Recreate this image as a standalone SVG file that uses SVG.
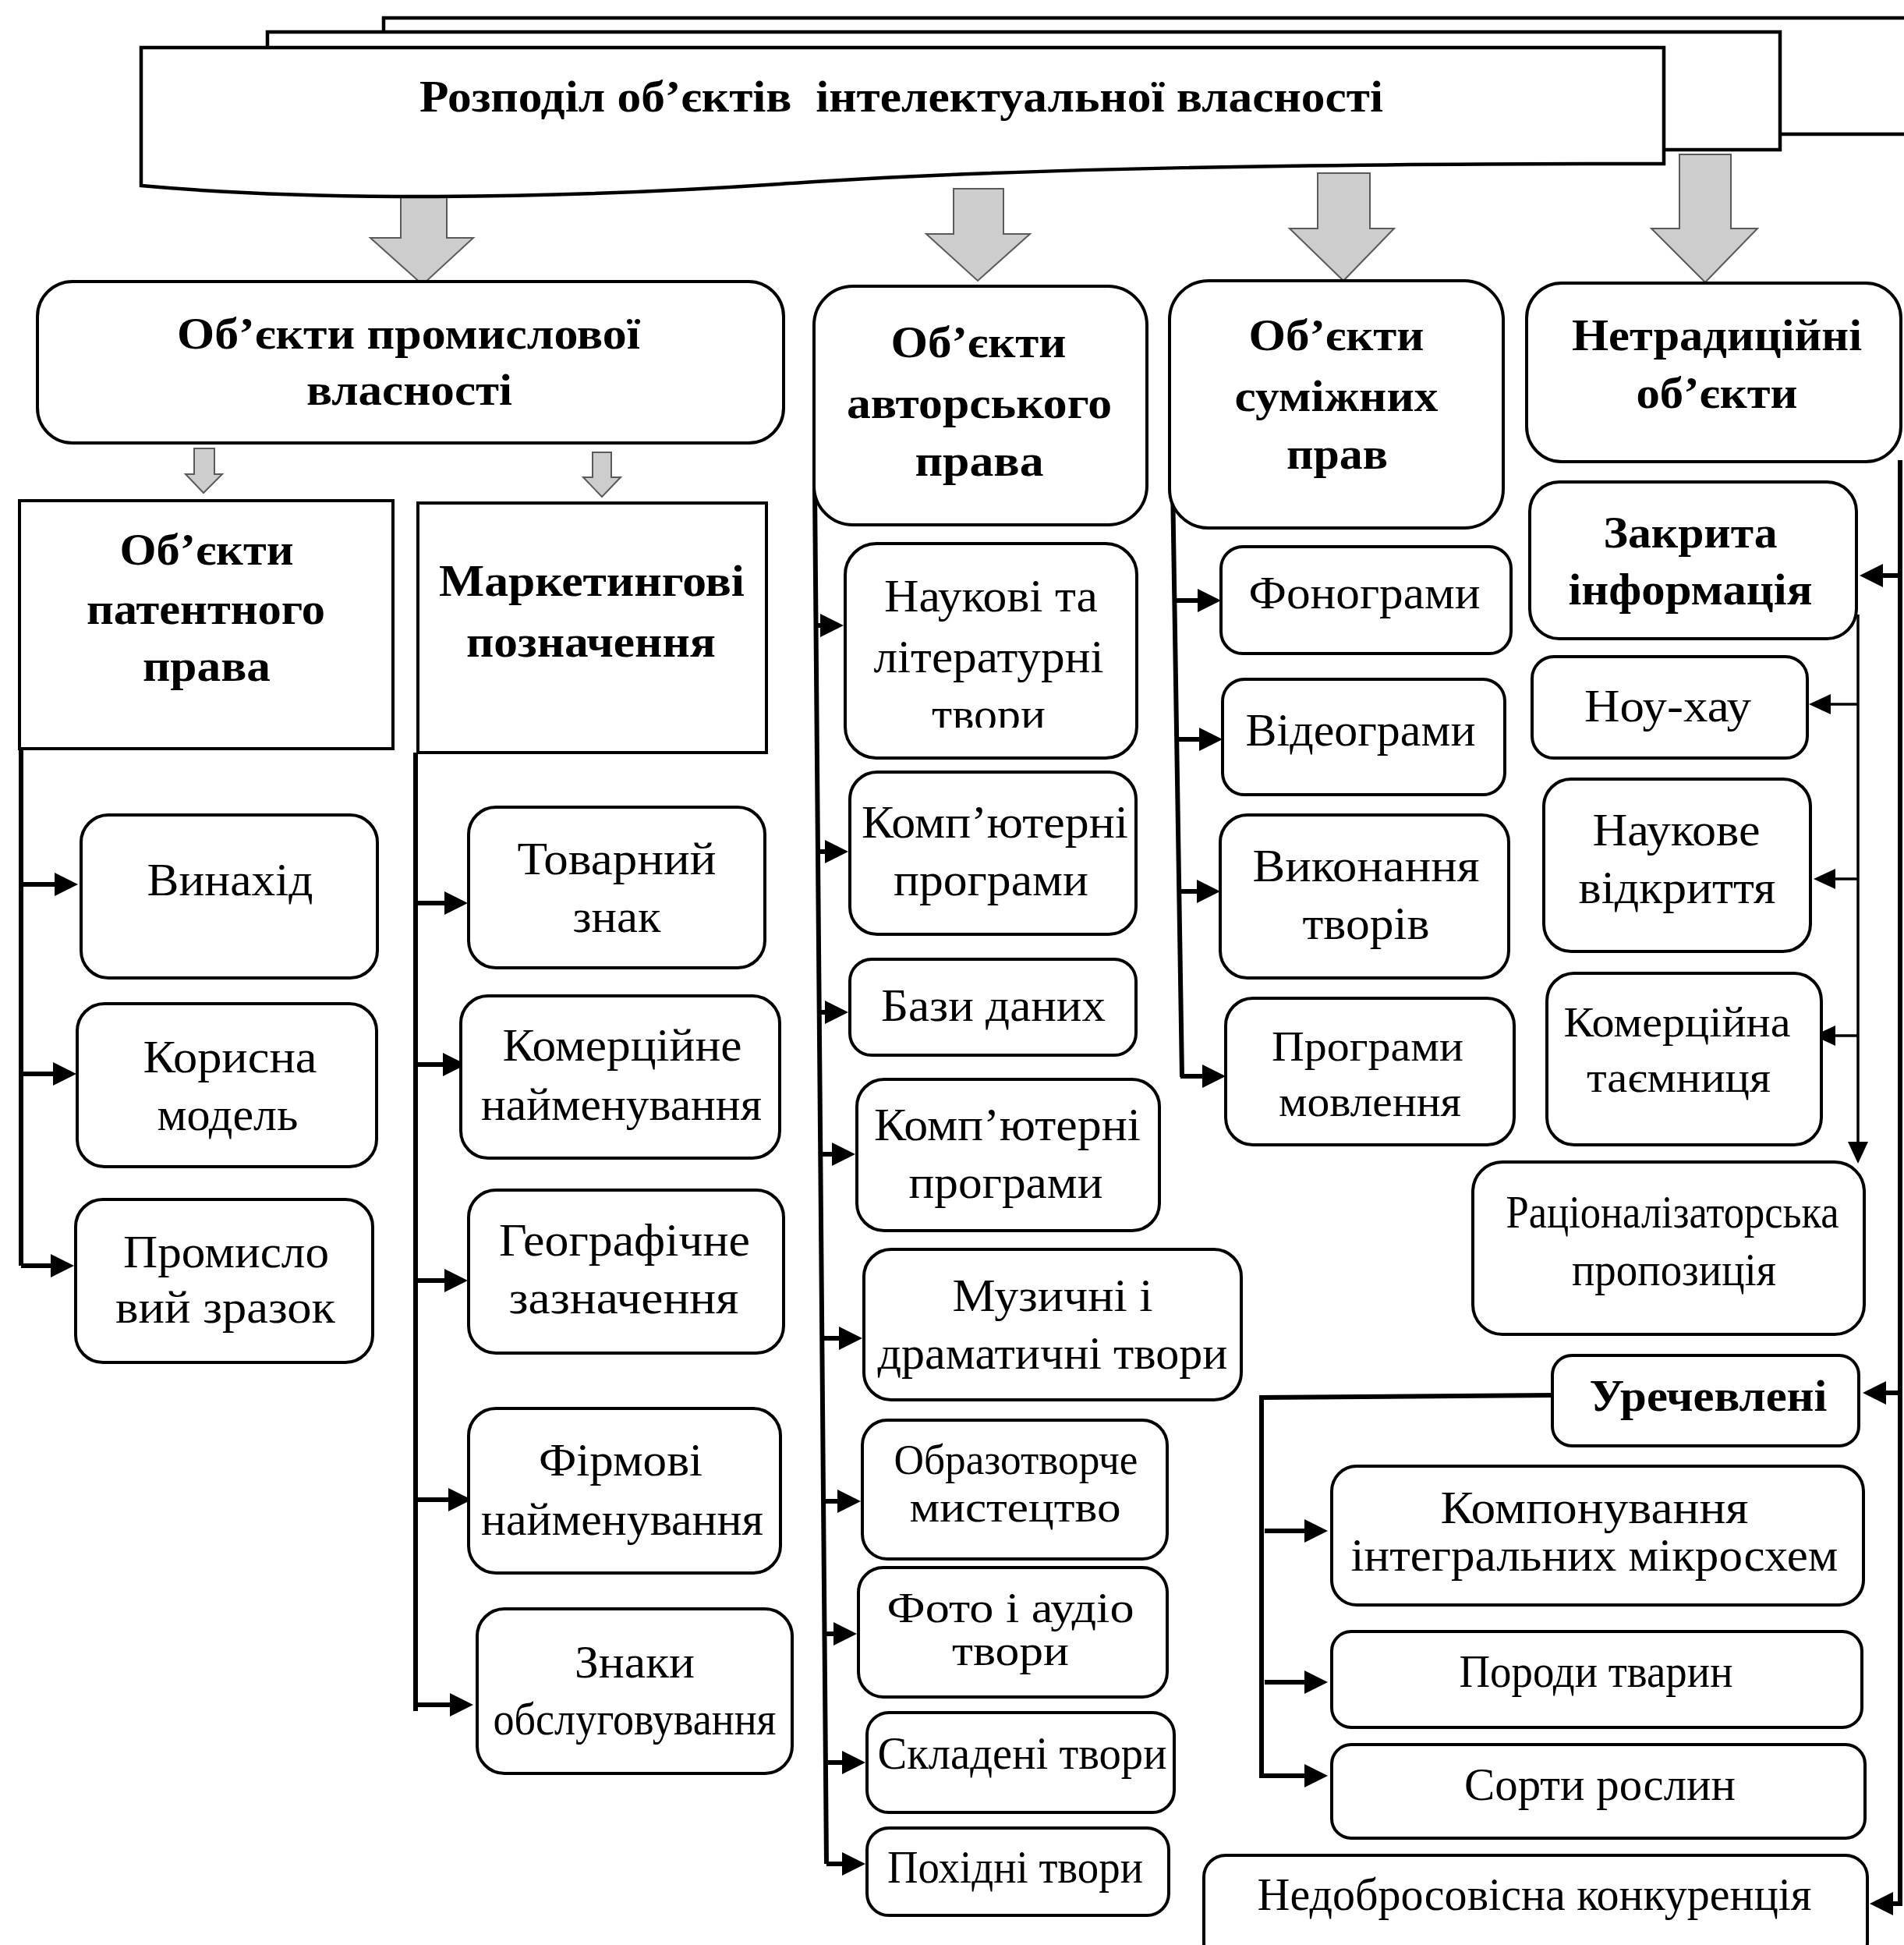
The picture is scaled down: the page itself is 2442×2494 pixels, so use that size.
<svg xmlns="http://www.w3.org/2000/svg" width="2442" height="2494" viewBox="0 0 2442 2494">
<defs>
<style>
.bx{fill:#fff;stroke:#000;stroke-width:4}
.bn{fill:#fff;stroke:#000;stroke-width:4.5}
.t{font-family:"Liberation Serif","Times New Roman",serif;font-size:60px;text-anchor:middle;fill:#000}
.s{font-size:54px}
.b{font-weight:bold;font-size:58px}
.c{stroke:#000;stroke-width:6;fill:none}
.ct{stroke:#000;stroke-width:3.5;fill:none}
.ga{fill:#cdcdcd;stroke:#5a5a5a;stroke-width:2}
</style>
<marker id="ah" markerUnits="userSpaceOnUse" viewBox="0 0 30 30" markerWidth="30" markerHeight="30" refX="20" refY="15" orient="auto"><path d="M0,0 L30,15 L0,30 Z" fill="#000"/></marker>
<marker id="ah2" markerUnits="userSpaceOnUse" viewBox="0 0 28 26" markerWidth="28" markerHeight="26" refX="18" refY="13" orient="auto"><path d="M0,0 L28,13 L0,26 Z" fill="#000"/></marker>
<clipPath id="clipNauk"><rect x="1084" y="697" width="374" height="236"/></clipPath>
</defs>
<rect width="2442" height="2494" fill="#fff"/>

<g id="block-arrows">
<polygon class="ga" points="514,247 573,247 573,305 607,305 542,365 475,305 514,305"/>
<polygon class="ga" points="1223,242 1287,242 1287,300 1321,300 1254,360 1188,300 1223,300"/>
<polygon class="ga" points="1690,222 1757,222 1757,293 1788,293 1723,360 1654,293 1690,293"/>
<polygon class="ga" points="2154,198 2220,198 2220,293 2254,293 2187,362 2118,293 2154,293"/>
<polygon class="ga" points="249,575 275,575 275,608 285,608 261,632 238,608 249,608"/>
<polygon class="ga" points="760,580 784,580 784,612 796,612 772,637 748,612 760,612"/>
</g>

<g id="n-title">
<rect class="bn" x="492" y="23" width="2000" height="149"/>
<rect class="bn" x="343" y="41" width="1940" height="151"/>
<path class="bn" d="M181,61 H2134 V210 C1700,210 1300,215 1000,236 C700,256 400,258 181,238 Z"/>
<text class="t b" x="1156" y="143" font-size="56" textLength="1236" lengthAdjust="spacingAndGlyphs" xml:space="preserve">Розподіл об’єктів  інтелектуальної власності</text>
</g>

<g id="connectors">
<path class="c" d="M27,960 V1623"/>
<path class="c" d="M27,1134 H90" marker-end="url(#ah)"/>
<path class="c" d="M27,1377 H88" marker-end="url(#ah)"/>
<path class="c" d="M27,1623 H85" marker-end="url(#ah)"/>
<path class="c" d="M533,965 V2194"/>
<path class="c" d="M533,1158 H590" marker-end="url(#ah)"/>
<path class="c" d="M533,1365 H588" marker-end="url(#ah)"/>
<path class="c" d="M533,1642 H590" marker-end="url(#ah)"/>
<path class="c" d="M533,1923 H595" marker-end="url(#ah)"/>
<path class="c" d="M533,2186 H597" marker-end="url(#ah)"/>
<path class="c" d="M1045,625 L1060,2390"/>
<path class="c" d="M1046,802 H1072" marker-end="url(#ah)"/>
<path class="c" d="M1049,1092 H1078" marker-end="url(#ah)"/>
<path class="c" d="M1051,1298 H1078" marker-end="url(#ah)"/>
<path class="c" d="M1052,1480 H1087" marker-end="url(#ah)"/>
<path class="c" d="M1054,1716 H1096" marker-end="url(#ah)"/>
<path class="c" d="M1056,1925 H1094" marker-end="url(#ah)"/>
<path class="c" d="M1057,2095 H1089" marker-end="url(#ah)"/>
<path class="c" d="M1059,2260 H1100" marker-end="url(#ah)"/>
<path class="c" d="M1060,2390 H1100" marker-end="url(#ah)"/>
<path class="c" d="M1504,620 L1516,1381"/>
<path class="c" d="M1505,770 H1556" marker-end="url(#ah)"/>
<path class="c" d="M1508,948 H1558" marker-end="url(#ah)"/>
<path class="c" d="M1511,1143 H1555" marker-end="url(#ah)"/>
<path class="c" d="M1514,1380 H1562" marker-end="url(#ah)"/>
<path class="c" d="M2437,590 V2444"/>
<path class="c" d="M2437,738 H2395" marker-end="url(#ah)"/>
<path class="c" d="M2437,1786 H2399" marker-end="url(#ah)"/>
<path class="c" d="M2437,2441 H2408" marker-end="url(#ah)"/>
<path class="ct" d="M2383,788 V1482" marker-end="url(#ah2)"/>
<path class="ct" d="M2383,903 H2330" marker-end="url(#ah2)"/>
<path class="ct" d="M2383,1127 H2336" marker-end="url(#ah2)"/>
<path class="ct" d="M2383,1328 H2336" marker-end="url(#ah2)"/>
<path class="c" d="M1991,1789 L1618,1792 V2280"/>
<path class="c" d="M1622,1963 H1693" marker-end="url(#ah)"/>
<path class="c" d="M1622,2157 H1693" marker-end="url(#ah)"/>
<path class="c" d="M1618,2277 H1693" marker-end="url(#ah)"/>
</g>

<g id="n-prom"><rect class="bx" x="48" y="361" width="957" height="207" rx="45"/>
<text class="t b" x="524" y="447" textLength="594" lengthAdjust="spacingAndGlyphs">Об’єкти промислової</text>
<text class="t b" x="525" y="519" textLength="264" lengthAdjust="spacingAndGlyphs">власності</text></g>

<g id="n-patent"><rect class="bx" x="25" y="642" width="479" height="318"/>
<text class="t b" x="265" y="724" textLength="223" lengthAdjust="spacingAndGlyphs">Об’єкти</text>
<text class="t b" x="264" y="800" textLength="306" lengthAdjust="spacingAndGlyphs">патентного</text>
<text class="t b" x="265" y="873" textLength="164" lengthAdjust="spacingAndGlyphs">права</text></g>

<g id="n-market"><rect class="bx" x="536" y="645" width="447" height="320"/>
<text class="t b" x="759" y="764" textLength="392" lengthAdjust="spacingAndGlyphs">Маркетингові</text>
<text class="t b" x="758" y="842" textLength="320" lengthAdjust="spacingAndGlyphs">позначення</text></g>

<g id="n-vynahid"><rect class="bx" x="104" y="1045" width="380" height="209" rx="35"/>
<text class="t" x="295" y="1148" textLength="213" lengthAdjust="spacingAndGlyphs">Винахід</text></g>

<g id="n-korysna"><rect class="bx" x="99" y="1287" width="384" height="209" rx="35"/>
<text class="t" x="295" y="1375" textLength="223" lengthAdjust="spacingAndGlyphs">Корисна</text>
<text class="t" x="292" y="1449" textLength="181" lengthAdjust="spacingAndGlyphs">модель</text></g>

<g id="n-promzr"><rect class="bx" x="97" y="1538" width="381" height="209" rx="35"/>
<text class="t" x="290" y="1625" textLength="264" lengthAdjust="spacingAndGlyphs">Промисло</text>
<text class="t" x="289" y="1696" textLength="282" lengthAdjust="spacingAndGlyphs">вий зразок</text></g>

<g id="n-tovar"><rect class="bx" x="601" y="1035" width="380" height="206" rx="35"/>
<text class="t" x="791" y="1121" textLength="255" lengthAdjust="spacingAndGlyphs">Товарний</text>
<text class="t" x="791" y="1195" textLength="113" lengthAdjust="spacingAndGlyphs">знак</text></g>

<g id="n-komnaym"><rect class="bx" x="591" y="1277" width="409" height="208" rx="35"/>
<text class="t" x="798" y="1360" textLength="307" lengthAdjust="spacingAndGlyphs">Комерційне</text>
<text class="t" x="797" y="1436" textLength="360" lengthAdjust="spacingAndGlyphs">найменування</text></g>

<g id="n-geo"><rect class="bx" x="601" y="1526" width="404" height="209" rx="35"/>
<text class="t" x="801" y="1610" textLength="322" lengthAdjust="spacingAndGlyphs">Географічне</text>
<text class="t" x="800" y="1684" textLength="295" lengthAdjust="spacingAndGlyphs">зазначення</text></g>

<g id="n-firm"><rect class="bx" x="601" y="1806" width="400" height="211" rx="35"/>
<text class="t" x="796" y="1892" textLength="210" lengthAdjust="spacingAndGlyphs">Фірмові</text>
<text class="t" x="798" y="1968" textLength="362" lengthAdjust="spacingAndGlyphs">найменування</text></g>

<g id="n-znaky"><rect class="bx" x="612" y="2063" width="404" height="211" rx="35"/>
<text class="t" x="814" y="2151" textLength="154" lengthAdjust="spacingAndGlyphs">Знаки</text>
<text class="t" x="814" y="2224" textLength="363" lengthAdjust="spacingAndGlyphs">обслуговування</text></g>

<g id="n-avtor"><rect class="bx" x="1044" y="367" width="427" height="306" rx="50"/>
<text class="t b" x="1255" y="458" textLength="225" lengthAdjust="spacingAndGlyphs">Об’єкти</text>
<text class="t b" x="1256" y="536" textLength="340" lengthAdjust="spacingAndGlyphs">авторського</text>
<text class="t b" x="1256" y="610" textLength="165" lengthAdjust="spacingAndGlyphs">права</text></g>

<g id="n-sumizh"><rect class="bx" x="1500" y="360" width="428" height="317" rx="50"/>
<text class="t b" x="1714" y="449" textLength="225" lengthAdjust="spacingAndGlyphs">Об’єкти</text>
<text class="t b" x="1714" y="527" textLength="261" lengthAdjust="spacingAndGlyphs">суміжних</text>
<text class="t b" x="1715" y="601" textLength="130" lengthAdjust="spacingAndGlyphs">прав</text></g>

<g id="n-netrad"><rect class="bx" x="1958" y="363" width="480" height="229" rx="45"/>
<text class="t b" x="2202" y="449" textLength="372" lengthAdjust="spacingAndGlyphs">Нетрадиційні</text>
<text class="t b" x="2202" y="523" textLength="207" lengthAdjust="spacingAndGlyphs">об’єкти</text></g>

<g id="n-naukovi"><rect class="bx" x="1084" y="697" width="374" height="275" rx="40"/>
<g clip-path="url(#clipNauk)">
<text class="t" x="1271" y="784" textLength="274" lengthAdjust="spacingAndGlyphs">Наукові та</text>
<text class="t" x="1268" y="862" textLength="295" lengthAdjust="spacingAndGlyphs">літературні</text>
<text class="t" x="1268" y="936" textLength="146" lengthAdjust="spacingAndGlyphs">твори</text></g></g>

<g id="n-komp1"><rect class="bx" x="1090" y="990" width="367" height="208" rx="35"/>
<text class="t" x="1276" y="1074" textLength="342" lengthAdjust="spacingAndGlyphs">Комп’ютерні</text>
<text class="t" x="1271" y="1148" textLength="250" lengthAdjust="spacingAndGlyphs">програми</text></g>

<g id="n-bazy"><rect class="bx" x="1090" y="1230" width="367" height="123" rx="28"/>
<text class="t" x="1274" y="1309" textLength="288" lengthAdjust="spacingAndGlyphs">Бази даних</text></g>

<g id="n-komp2"><rect class="bx" x="1099" y="1384" width="388" height="194" rx="35"/>
<text class="t" x="1292" y="1462" textLength="342" lengthAdjust="spacingAndGlyphs">Комп’ютерні</text>
<text class="t" x="1290" y="1536" textLength="249" lengthAdjust="spacingAndGlyphs">програми</text></g>

<g id="n-muz"><rect class="bx" x="1108" y="1602" width="484" height="193" rx="35"/>
<text class="t" x="1350" y="1681" textLength="257" lengthAdjust="spacingAndGlyphs">Музичні і</text>
<text class="t" x="1350" y="1755" textLength="449" lengthAdjust="spacingAndGlyphs">драматичні твори</text></g>

<g id="n-obraz"><rect class="bx" x="1106" y="1821" width="391" height="178" rx="32"/>
<text class="t s" x="1303" y="1890" textLength="313" lengthAdjust="spacingAndGlyphs">Образотворче</text>
<text class="t s" x="1302" y="1951" textLength="271" lengthAdjust="spacingAndGlyphs">мистецтво</text></g>

<g id="n-foto"><rect class="bx" x="1101" y="2010" width="396" height="166" rx="32"/>
<text class="t s" x="1296" y="2080" textLength="317" lengthAdjust="spacingAndGlyphs">Фото і аудіо</text>
<text class="t s" x="1296" y="2135" textLength="150" lengthAdjust="spacingAndGlyphs">твори</text></g>

<g id="n-sklad"><rect class="bx" x="1112" y="2196" width="394" height="128" rx="28"/>
<text class="t" x="1311" y="2268" textLength="371" lengthAdjust="spacingAndGlyphs">Складені твори</text></g>

<g id="n-pokhid"><rect class="bx" x="1112" y="2344" width="387" height="112" rx="28"/>
<text class="t" x="1302" y="2414" textLength="328" lengthAdjust="spacingAndGlyphs">Похідні твори</text></g>

<g id="n-fono"><rect class="bx" x="1566" y="701" width="372" height="137" rx="28"/>
<text class="t" x="1750" y="780" textLength="297" lengthAdjust="spacingAndGlyphs">Фонограми</text></g>

<g id="n-video"><rect class="bx" x="1568" y="871" width="362" height="148" rx="28"/>
<text class="t" x="1745" y="956" textLength="295" lengthAdjust="spacingAndGlyphs">Відеограми</text></g>

<g id="n-vykon"><rect class="bx" x="1565" y="1045" width="370" height="209" rx="35"/>
<text class="t" x="1752" y="1130" textLength="291" lengthAdjust="spacingAndGlyphs">Виконання</text>
<text class="t" x="1752" y="1204" textLength="163" lengthAdjust="spacingAndGlyphs">творів</text></g>

<g id="n-progmov"><rect class="bx" x="1572" y="1280" width="370" height="188" rx="35"/>
<text class="t s" x="1754" y="1360" textLength="246" lengthAdjust="spacingAndGlyphs">Програми</text>
<text class="t s" x="1757" y="1431" textLength="234" lengthAdjust="spacingAndGlyphs">мовлення</text></g>

<g id="n-zakr"><rect class="bx" x="1962" y="618" width="419" height="201" rx="38"/>
<text class="t b" x="2168" y="702" textLength="223" lengthAdjust="spacingAndGlyphs">Закрита</text>
<text class="t b" x="2168" y="775" textLength="313" lengthAdjust="spacingAndGlyphs">інформація</text></g>

<g id="n-nouhau"><rect class="bx" x="1965" y="842" width="353" height="130" rx="28"/>
<text class="t" x="2139" y="925" textLength="214" lengthAdjust="spacingAndGlyphs">Ноу-хау</text></g>

<g id="n-naukove"><rect class="bx" x="1980" y="999" width="342" height="221" rx="35"/>
<text class="t" x="2150" y="1084" textLength="215" lengthAdjust="spacingAndGlyphs">Наукове</text>
<text class="t" x="2151" y="1158" textLength="253" lengthAdjust="spacingAndGlyphs">відкриття</text></g>

<g id="n-komtaem"><rect class="bx" x="1984" y="1248" width="352" height="220" rx="35"/>
<text class="t s" x="2151" y="1329" textLength="291" lengthAdjust="spacingAndGlyphs">Комерційна</text>
<text class="t s" x="2153" y="1400" textLength="236" lengthAdjust="spacingAndGlyphs">таємниця</text></g>

<g id="n-racion"><rect class="bx" x="1889" y="1490" width="502" height="221" rx="38"/>
<text class="t" x="2145" y="1574" textLength="427" lengthAdjust="spacingAndGlyphs">Раціоналізаторська</text>
<text class="t" x="2147" y="1648" textLength="262" lengthAdjust="spacingAndGlyphs">пропозиція</text></g>

<g id="n-urech"><rect class="bx" x="1991" y="1738" width="393" height="116" rx="25"/>
<text class="t b" x="2191" y="1809" textLength="305" lengthAdjust="spacingAndGlyphs">Уречевлені</text></g>

<g id="n-kompon"><rect class="bx" x="1708" y="1880" width="682" height="178" rx="32"/>
<text class="t" x="2045" y="1953" textLength="395" lengthAdjust="spacingAndGlyphs">Компонування</text>
<text class="t" x="2045" y="2014" textLength="625" lengthAdjust="spacingAndGlyphs">інтегральних мікросхем</text></g>

<g id="n-porody"><rect class="bx" x="1708" y="2092" width="680" height="123" rx="25"/>
<text class="t" x="2047" y="2163" textLength="351" lengthAdjust="spacingAndGlyphs">Породи тварин</text></g>

<g id="n-sorty"><rect class="bx" x="1708" y="2237" width="684" height="120" rx="25"/>
<text class="t" x="2052" y="2308" textLength="348" lengthAdjust="spacingAndGlyphs">Сорти рослин</text></g>

<g id="n-nedobr"><rect class="bx" x="1544" y="2379" width="851" height="140" rx="28"/>
<text class="t" x="1968" y="2449" textLength="711" lengthAdjust="spacingAndGlyphs">Недобросовісна конкуренція</text></g>
</svg>
